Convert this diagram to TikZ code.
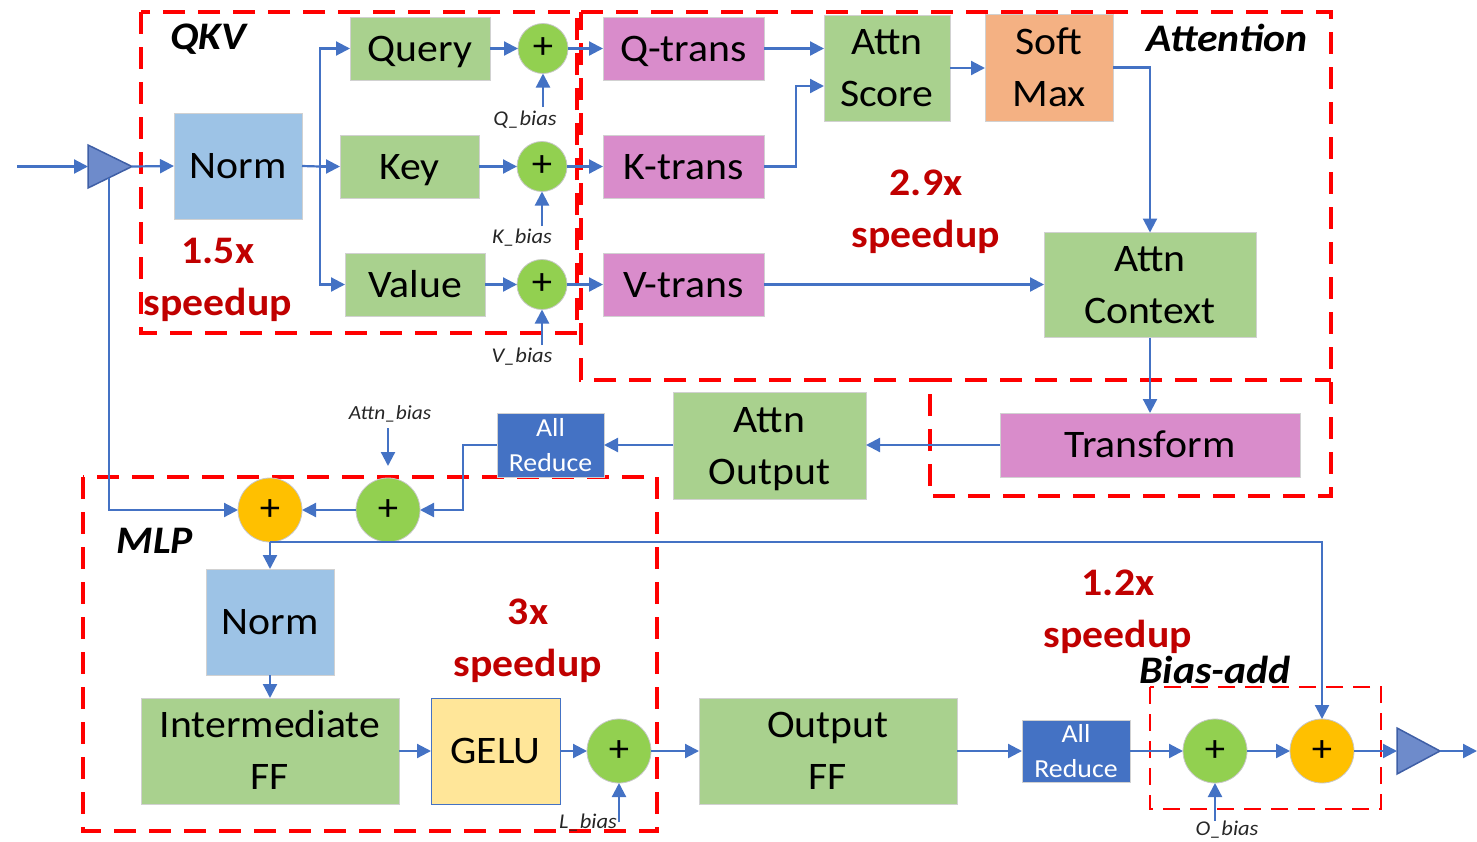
\documentclass[tikz,border=0pt]{standalone}
\usepackage{fontspec}
\setmainfont{Carlito}[FakeStretch=1.07]
\usetikzlibrary{arrows.meta,calc}

\definecolor{flow}{HTML}{4472C4}
\definecolor{boxgreen}{HTML}{A9D18E}
\definecolor{boxblue}{HTML}{9DC3E6}
\definecolor{boxpink}{HTML}{D98CCB}
\definecolor{boxorange}{HTML}{F4B183}
\definecolor{boxyellow}{HTML}{FFE699}
\definecolor{reduceblue}{HTML}{4472C4}
\definecolor{addgreen}{HTML}{92D050}
\definecolor{addorange}{HTML}{FFC000}
\definecolor{regionred}{HTML}{FF0000}
\definecolor{speedred}{HTML}{C00000}
\definecolor{trifill}{HTML}{6E8BCB}
\definecolor{triedge}{HTML}{3F5FA6}

% line strut whose height minus depth equals the cap height,
% so capitals sit on the vertical centre of a box
\newcommand\capstrut{\rule[-0.25em]{0pt}{1.144em}}

\begin{document}
\begin{tikzpicture}[x=1pt,y=-1pt,
  every node/.style={inner sep=0pt,outer sep=0pt},
  block/.style={draw=black!18,line width=0.8pt,align=center,font=\fontsize{39}{52}\selectfont},
  gblock/.style={block,fill=boxgreen},
  bblock/.style={block,fill=boxblue},
  pblock/.style={block,fill=boxpink},
  oblock/.style={block,fill=boxorange},
  yblock/.style={block,fill=boxyellow,draw=flow,line width=1pt},
  rblock/.style={block,fill=reduceblue,text=white,font=\fontsize{26}{35}\selectfont},
  adder/.style={circle,draw=black!22,line width=0.8pt,font=\fontsize{38}{38}\selectfont},
  gadd/.style={adder,fill=addgreen},
  oadd/.style={adder,fill=addorange},
  flowline/.style={draw=flow,line width=2.2pt},
  flowarrow/.style={flowline,-{Triangle[length=14pt,width=14pt]}},
  region/.style={draw=regionred,line width=3.5pt,dash pattern=on 22pt off 13pt},
  tag/.style={font=\fontsize{39}{39}\selectfont\bfseries\itshape},
  gain/.style={align=center,text=speedred,font=\fontsize{39}{52}\selectfont\bfseries},
  biastag/.style={text=black!85,font=\fontsize{21}{21}\selectfont\itshape},
  tri/.style={fill=trifill,draw=triedge,line width=1.5pt,line join=miter},
]
\useasboundingbox (0,0) rectangle (1477,841);

% dashed regions
\draw[region] (141,12) rectangle (577,333);
\draw[region] (581,12) -- (1331,12) -- (1331,496) -- (930,496) -- (930,380) -- (581,380) -- cycle;
\draw[region] (930,380) -- (1331,380);
\draw[region] (83,477) rectangle (657,831);
\draw[region,line width=2.5pt,dash pattern=on 17pt off 10pt] (1150,687) rectangle (1381,809);

% region titles
\node[tag] (tqkv) at (208,39) {QKV};
\node[tag] (tattn) at (1227,38) {Attention};
\node[tag] (tmlp) at (155,541) {MLP};
\node[tag] (tbias) at (1215,670) {Bias-add};

% speedup notes
\node[gain] (g1) at (218,279.5) {1.5x\\speedup};
\node[gain] (g2) at (926,211.5) {2.9x\\speedup};
\node[gain] (g3) at (528,640.5) {3x\\speedup};
\node[gain] (g4) at (1118,611.5) {1.2x\\speedup};

% QKV stage
\node[bblock,minimum width=128pt,minimum height=106pt] (norm1) at (238,166) {\capstrut Norm};
\node[gblock,minimum width=140pt,minimum height=63pt] (query) at (420,48.5) {\capstrut Query};
\node[gblock,minimum width=139pt,minimum height=63pt] (key) at (409.5,166.5) {\capstrut Key};
\node[gblock,minimum width=140pt,minimum height=63pt] (value) at (415,284.5) {\capstrut Value};
\node[gadd,minimum size=50pt] (addq) at (543,48.5) {+};
\node[gadd,minimum size=50pt] (addk) at (542,166.5) {+};
\node[gadd,minimum size=50pt] (addv) at (542,284.5) {+};
\node[biastag] (lq) at (525,120) {Q\_bias};
\node[biastag] (lk) at (522,238) {K\_bias};
\node[biastag] (lv) at (522,357) {V\_bias};

% attention stage
\node[pblock,minimum width=161pt,minimum height=63pt] (qtr) at (683.5,48.5) {\capstrut Q-trans};
\node[pblock,minimum width=161pt,minimum height=63pt] (ktr) at (683.5,166.5) {\capstrut K-trans};
\node[pblock,minimum width=161pt,minimum height=63pt] (vtr) at (683.5,284.5) {\capstrut V-trans};
\node[gblock,minimum width=126pt,minimum height=106pt] (score) at (887,68) {\capstrut Attn\\\capstrut Score};
\node[oblock,minimum width=128pt,minimum height=107pt] (smax) at (1049,67.5) {\capstrut Soft\\\capstrut Max};
\node[gblock,minimum width=212pt,minimum height=105pt] (ctx) at (1150,285) {\capstrut Attn\\\capstrut Context};
\node[pblock,minimum width=300pt,minimum height=64pt] (trf) at (1150,445) {\capstrut Transform};
\node[gblock,minimum width=193pt,minimum height=107pt] (aout) at (769.5,446) {\capstrut Attn\\\capstrut Output};
\node[rblock,minimum width=107pt,minimum height=64pt] (red1) at (550.5,445) {All\\Reduce};

% residual adds
\node[gadd,minimum size=64pt] (adda) at (388,510) {+};
\node[oadd,minimum size=64pt] (res1) at (270,510) {+};
\node[biastag,font=\fontsize{20}{20}\selectfont\itshape] (la) at (390,414) {Attn\_bias};

% MLP stage
\node[bblock,minimum width=128pt,minimum height=106pt] (norm2) at (270,622) {\capstrut Norm};
\node[gblock,minimum width=258pt,minimum height=106pt] (iff) at (270,751) {\capstrut Intermediate\\\capstrut FF};
\node[yblock,minimum width=129pt,minimum height=106pt] (gelu) at (495.5,751) {\capstrut GELU};
\node[gadd,minimum size=64pt] (addl) at (619,751) {+};
\node[biastag] (ll) at (588,823) {L\_bias};
\node[gblock,minimum width=258pt,minimum height=106pt] (off) at (828,751) {\capstrut Output\\\capstrut FF};
\node[rblock,minimum width=108pt,minimum height=62pt] (red2) at (1076,751) {All\\Reduce};
\node[gadd,minimum size=64pt] (addo) at (1215,751) {+};
\node[oadd,minimum size=64pt] (res2) at (1322,751) {+};
\node[biastag] (lo) at (1227,830) {O\_bias};

% input and output buffers
\draw[tri] (88,145) -- (132,166.5) -- (88,188) -- cycle;
\draw[tri] (1397,728) -- (1440,751) -- (1397,774) -- cycle;
\coordinate (src) at (17,166.5);
\coordinate (tinA) at (88,166.5);
\coordinate (toutA) at (132,166.5);
\coordinate (tapA) at (109,177.5);
\coordinate (tinB) at (1397,751);
\coordinate (toutB) at (1440,751);
\coordinate (sink) at (1477,751);

% bias feeds
\coordinate (bq) at (543,107);
\coordinate (bk) at (542,226);
\coordinate (bv) at (542,345);
\coordinate (ba) at (388,428);
\coordinate (baend) at (388,466);
\coordinate (bl) at (619,822);
\coordinate (bo) at (1215,821);
\coordinate (split) at (320,166.5);

% connectors
\draw[flowarrow] (src) -- (tinA);
\draw[flowarrow] (toutA) -- (norm1.west);
\draw[flowline] (norm1.east) -- (split);
\draw[flowarrow] (split) |- (query.west);
\draw[flowarrow] (split) -- (key.west);
\draw[flowarrow] (split) |- (value.west);
\draw[flowarrow] (query.east) -- (addq.west);
\draw[flowarrow] (key.east) -- (addk.west);
\draw[flowarrow] (value.east) -- (addv.west);
\draw[flowarrow] (bq) -- (addq.south);
\draw[flowarrow] (bk) -- (addk.south);
\draw[flowarrow] (bv) -- (addv.south);
\draw[flowarrow] (addq.east) -- (qtr.west);
\draw[flowarrow] (addk.east) -- (ktr.west);
\draw[flowarrow] (addv.east) -- (vtr.west);
\draw[flowarrow] (qtr.east) -- (score.west |- qtr.east);
\draw[flowarrow] (ktr.east) -- ++(32,0) |- ([yshift=-18pt]score.west);
\draw[flowarrow] (score.east) -- (smax.west |- score.east);
\draw[flowarrow] (smax.east) -| (ctx.north);
\draw[flowarrow] (vtr.east) -- (ctx.west |- vtr.east);
\draw[flowarrow] (ctx.south) -- (trf.north);
\draw[flowarrow] (trf.west) -- (aout.east |- trf.west);
\draw[flowarrow] (aout.west |- red1.east) -- (red1.east);
\draw[flowarrow] (red1.west) -- ++(-34,0) |- (adda.east);
\draw[flowarrow] (ba) -- (baend);
\draw[flowarrow] (adda.west) -- (res1.east);
\draw[flowarrow] (tapA) |- (res1.west);
\draw[flowarrow] (res1.south) -- (norm2.north);
\draw[flowarrow] (res1.south) -| (res2.north);
\draw[flowarrow] (norm2.south) -- (iff.north);
\draw[flowarrow] (iff.east) -- (gelu.west);
\draw[flowarrow] (gelu.east) -- (addl.west);
\draw[flowarrow] (bl) -- (addl.south);
\draw[flowarrow] (addl.east) -- (off.west);
\draw[flowarrow] (off.east) -- (red2.west);
\draw[flowarrow] (red2.east) -- (addo.west);
\draw[flowarrow] (bo) -- (addo.south);
\draw[flowarrow] (addo.east) -- (res2.west);
\draw[flowarrow] (res2.east) -- (tinB);
\draw[flowarrow] (toutB) -- (sink);
\end{tikzpicture}
\end{document}
